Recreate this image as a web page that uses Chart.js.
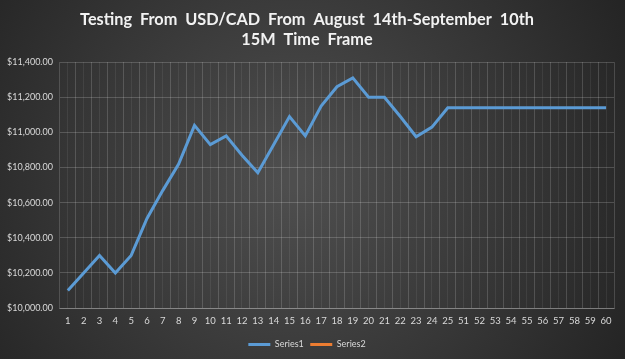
<!DOCTYPE html>
<html><head><meta charset="utf-8">
<script src="https://cdn.jsdelivr.net/npm/chart.js@4"></script>
<style>html,body{margin:0;padding:0;background:#333;}#wrap{width:625px;height:359px;}</style>
</head><body><div id="wrap"><canvas id="c" width="625" height="359"></canvas></div>
<script>
const categories = ['1','2','3','4','5','6','7','8','9','10','11','12','13','14','15','16','17','18','19','20','21','22','23','24','25','51','52','53','54','55','56','57','58','59','60'];
const series1 = [10100,10200,10300,10200,10300,10510,10670,10820,11040,10930,10980,10870,10770,10930,11090,10980,11150,11260,11310,11200,11200,11090,10975,11030,11140,11140,11140,11140,11140,11140,11140,11140,11140,11140,11140];
const series2 = [];
const titleLines = ['Testing  From  USD/CAD  From  August  14th-September  10th','15M  Time  Frame'];

const bgPlugin = {
  id: 'bg',
  beforeDraw(chart) {
    const {ctx, width, height} = chart;
    ctx.save();
    const g = ctx.createRadialGradient(width*0.47, height*0.5, 10, width*0.47, height*0.5, width*0.62);
    g.addColorStop(0, '#4e4e4e');
    g.addColorStop(1, '#232323');
    ctx.fillStyle = g;
    ctx.fillRect(0, 0, width, height);
    ctx.restore();
  }
};

new Chart(document.getElementById('c'), {
  type: 'line',
  data: {
    labels: categories,
    datasets: [
      {label: 'Series1', data: series1, borderColor: '#5b9bd5', backgroundColor: '#5b9bd5', borderWidth: 3, pointRadius: 0, tension: 0, xAxisID: 'x'},
      {label: 'Series2', data: series2, borderColor: '#ed7d31', backgroundColor: '#ed7d31', borderWidth: 3, pointRadius: 0, xAxisID: 'x'}
    ]
  },
  options: {
    responsive: false,
    animation: false,
    devicePixelRatio: 1,
    layout: {padding: {left: 0, right: 11, top: 0, bottom: 0}},
    plugins: {
      title: {display: true, text: titleLines, color: '#f2f2f2', font: {family: 'Lato', size: 16.3, weight: 'bold', lineHeight: 1.26}, padding: {top: 9, bottom: 12}},
      legend: {position: 'bottom', labels: {color: '#d9d9d9', font: {family: 'Lato', size: 9}, boxWidth: 22, boxHeight: 3, padding: 6.5,
        generateLabels(chart) {
          return chart.data.datasets.map((d, i) => ({text: d.label, fillStyle: d.borderColor, strokeStyle: d.borderColor, lineWidth: 0, datasetIndex: i, fontColor: '#d9d9d9'}));
        }}},
      tooltip: {enabled: false}
    },
    scales: {
      x: {
        type: 'category', offset: true,
        grid: {offset: true, color: 'rgba(255,255,255,0.16)', drawTicks: false},
        border: {color: 'rgba(255,255,255,0.25)'},
        ticks: {color: '#d9d9d9', font: {family: 'Lato', size: 9.5}, maxRotation: 0, autoSkip: false, padding: 7}
      },
      x2: {
        type: 'category', labels: categories, offset: true, position: 'bottom', display: true,
        grid: {offset: false, color: 'rgba(255,255,255,0.07)', drawTicks: false},
        border: {display: false},
        ticks: {display: false}
      },
      y: {
        min: 10000, max: 11400,
        ticks: {stepSize: 200, color: '#d9d9d9', font: {family: 'Lato', size: 9}, padding: 7,
          callback: v => '$' + v.toLocaleString('en-US', {minimumFractionDigits: 2, maximumFractionDigits: 2})},
        grid: {color: 'rgba(255,255,255,0.18)', drawTicks: false},
        border: {display: false}
      }
    }
  },
  plugins: [bgPlugin]
});
</script></body></html>
